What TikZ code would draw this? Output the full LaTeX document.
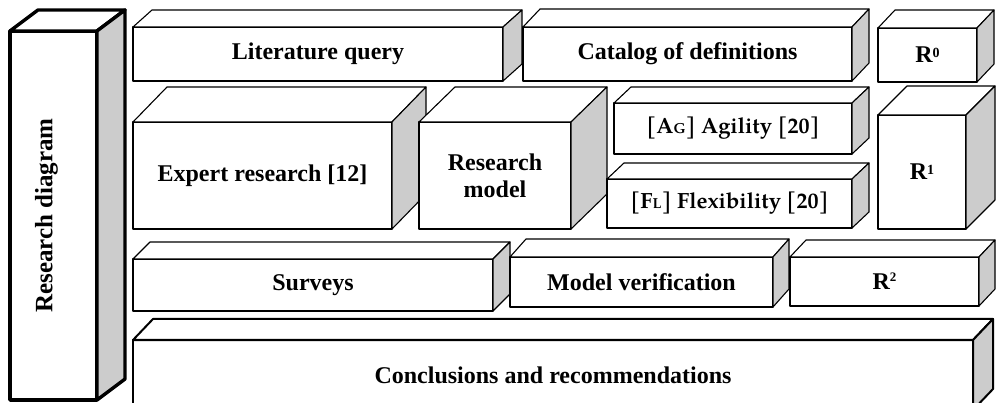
\documentclass[tikz,border=0pt]{standalone}
\usepackage{fontspec}
\setmainfont{Liberation Serif}
\newfontfamily\palfont{TeX Gyre Pagella}
\begin{document}
\begin{tikzpicture}[x=1pt,y=-1pt,
  face/.style={draw=black,fill=white,line width=1.1pt,inner sep=0pt,outer sep=0pt,
    align=center,font=\fontsize{24}{27}\selectfont\bfseries,line join=round},
  topf/.style={draw=black,fill=white,line width=1.1pt,line join=round},
  sidef/.style={draw=black,fill=black!20,line width=1.1pt,line join=round},
  thickbox/.style={line width=3.4pt},
  midbox/.style={line width=2pt},
  paltext/.style={font=\palfont\fontsize{22}{25}\selectfont\bfseries}]
\newcommand{\cuboid}[8][]{%
  \node[face,#1,minimum width={#5-#3},minimum height={#6-#4}] (#2) at ({(#3+#5)/2},{(#4+#6)/2}) {#8};
  \draw[topf,#1] (#2.north west) -- ([shift={(#7)}]#2.north west) -- ([shift={(#7)}]#2.north east) -- (#2.north east) -- cycle;
  \draw[sidef,#1] (#2.north east) -- ([shift={(#7)}]#2.north east) -- ([shift={(#7)}]#2.south east) -- (#2.south east) -- cycle;
}
\useasboundingbox (0,0) rectangle (996,403);
\clip (0,0) rectangle (996,403);
% left tall box
\cuboid[thickbox]{rd}{10}{31}{97}{400}{28,-21}{}
\node[rotate=90,font=\fontsize{25}{28}\selectfont\bfseries,anchor=center] (rdtext) at ([xshift=-7pt]rd.center) {Research diagram};
% row 1
\cuboid{lit}{133}{27}{503}{81}{19,-17}{Literature query}
\cuboid{cat}{523}{27}{852}{81}{17,-18}{Catalog of definitions}
\cuboid{r0}{878}{28}{977}{82}{17,-18}{R\raisebox{5pt}{\fontsize{14}{14}\selectfont 0}}
% row 2
\cuboid{exp}{133}{122}{392}{229}{34,-35}{Expert research [12]}
\cuboid{rm}{419}{122}{571}{229}{36,-35}{Research\\model}
\cuboid[paltext]{ag}{614}{103}{852}{154}{17,-16}{[A{\fontsize{14.5}{14.5}\selectfont G}] Agility [20]}
\cuboid[paltext]{fl}{607}{179}{852}{228}{17,-16}{[F{\fontsize{14.5}{14.5}\selectfont L}] Flexibility [20]}
\cuboid{r1}{878}{115}{966}{229}{29,-29}{R\raisebox{5pt}{\fontsize{14}{14}\selectfont 1}}
% row 3
\cuboid{sur}{133}{259}{493}{311}{17,-17}{Surveys}
\cuboid{mv}{510}{257}{773}{307}{16,-18}{Model verification}
\cuboid{r2}{790}{257}{979}{306}{16,-17}{R\raisebox{8pt}{\fontsize{13}{13}\selectfont 2}}
% bottom
\cuboid[midbox]{con}{133}{340}{973}{410}{20,-21}{Conclusions and recommendations}
\end{tikzpicture}
\end{document}
